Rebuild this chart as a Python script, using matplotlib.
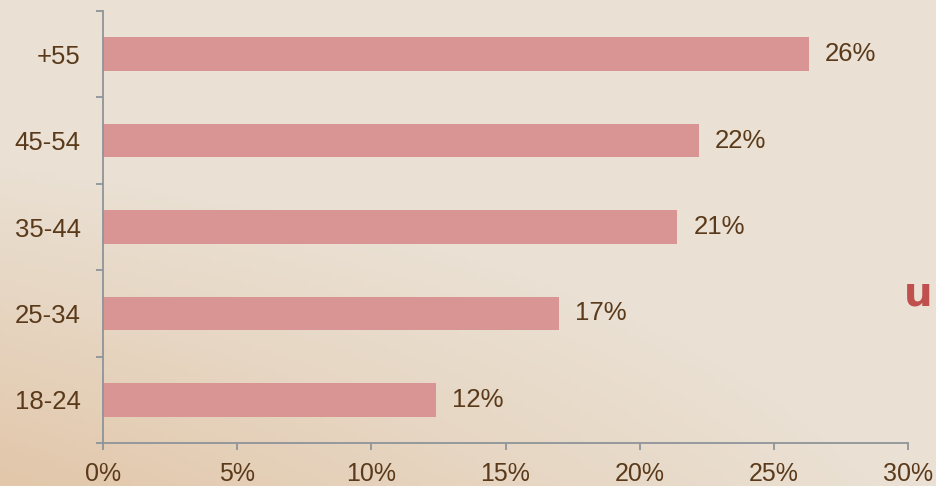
import numpy as np
import matplotlib.pyplot as plt
from matplotlib.colors import LinearSegmentedColormap

categorias = ['18-24', '25-34', '35-44', '45-54', '+55']
valores = [12.4, 17.0, 21.4, 22.2, 26.3]
ticks_x = [0, 5, 10, 15, 20, 25, 30]

color_barra = '#D99594'
color_texto = '#5A3A1A'
color_eje = '#8E9499'

fig = plt.figure(figsize=(9.36, 4.86), dpi=100)

# fondo tipo pergamino (degradado)
bg = fig.add_axes([0, 0, 1, 1], zorder=0)
gx, gy = np.meshgrid(np.linspace(0, 1, 200), np.linspace(0, 1, 100))
grad = np.clip(1.3 * (1 - gy) * (1 - 0.7 * gx) - 0.45, 0, 1)
cmap = LinearSegmentedColormap.from_list('perg', ['#EAE0D3', '#E2C7AA'])
bg.imshow(grad, cmap=cmap, aspect='auto', extent=[0, 1, 0, 1], origin='lower')
bg.axis('off')

ax = fig.add_axes([103 / 936, 43 / 486, 805 / 936, 432 / 486], zorder=1)
ax.patch.set_alpha(0)

y = np.arange(len(categorias))
ax.barh(y, valores, height=0.39, color=color_barra)
for yi, v in zip(y, valores):
    ax.text(v + 0.6, yi, f'{v:.0f}%', va='center', ha='left',
            fontsize=18.5, color=color_texto, family='Liberation Sans')

ax.set_xlim(0, 30)
ax.set_ylim(-0.5, len(categorias) - 0.5)
ax.set_xticks(ticks_x)
ax.set_xticklabels([f'{t}%' for t in ticks_x])
ax.set_yticks(y)
ax.set_yticklabels(categorias)
ax.set_yticks(np.arange(-0.5, len(categorias)), minor=True)

for s in ['top', 'right']:
    ax.spines[s].set_visible(False)
for s in ['left', 'bottom']:
    ax.spines[s].set_color(color_eje)
    ax.spines[s].set_linewidth(1.3)

ax.tick_params(axis='y', which='major', length=0, pad=16, labelsize=18.5, labelcolor=color_texto)
ax.tick_params(axis='y', which='minor', length=5, width=1.3, color=color_eje)
ax.tick_params(axis='x', length=5, width=1.3, color=color_eje, pad=9,
               labelsize=18, labelcolor=color_texto)
for lab in ax.get_xticklabels() + ax.get_yticklabels():
    lab.set_family('Liberation Sans')

fig.text(918 / 936, 191 / 486, 'u', color='#C0504D', fontsize=29,
         fontweight='bold', ha='center', va='center', family='DejaVu Sans')

fig.savefig('out.png', dpi=100)
